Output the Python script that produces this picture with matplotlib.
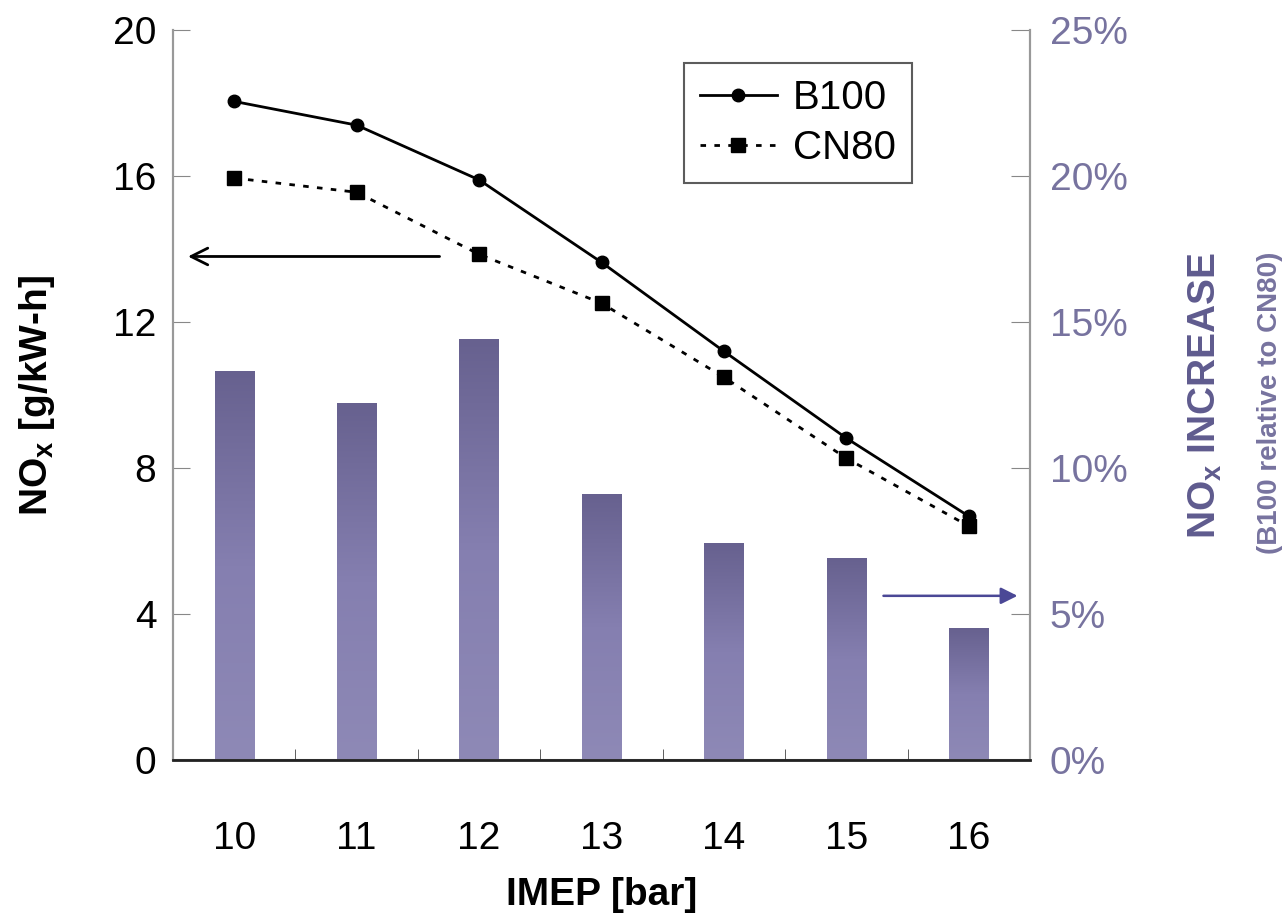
import numpy as np
import matplotlib
matplotlib.use("Agg")
import matplotlib.pyplot as plt
from matplotlib.colors import LinearSegmentedColormap

plt.rcParams['font.family'] = ['Liberation Sans', 'DejaVu Sans']
plt.rcParams['mathtext.fontset'] = 'custom'
plt.rcParams['mathtext.rm'] = 'Liberation Sans'
plt.rcParams['mathtext.bf'] = 'Liberation Sans:bold'

imep = [10, 11, 12, 13, 14, 15, 16]
b100 = [18.05, 17.4, 15.9, 13.64, 11.2, 8.82, 6.68]
cn80 = [15.95, 15.56, 13.86, 12.52, 10.49, 8.27, 6.41]
increase = [13.3, 12.2, 14.4, 9.1, 7.4, 6.9, 4.5]   # percent

label_col = '#77739f'

fig = plt.figure(figsize=(12.85, 9.17), dpi=100)
ax = fig.add_axes([0.1346, 0.1712, 0.667, 0.7958])
ax2 = ax.twinx()

# bars with vertical gradient on the right axis
cmap = LinearSegmentedColormap.from_list('barg', ['#8e89b6', '#857fb0', '#67618f'])
grad = np.linspace(0, 1, 256).reshape(-1, 1)
w = 0.32
for x, v in zip(imep, increase):
    ax2.imshow(grad, extent=(x - w / 2, x + w / 2, 0, v), origin='lower',
               cmap=cmap, aspect='auto', zorder=1)
ax2.set_ylim(0, 25)
ax2.set_xlim(9.5, 16.5)

ax.set_zorder(ax2.get_zorder() + 1)
ax.patch.set_visible(False)

ax.plot(imep, b100, '-o', color='black', lw=2, ms=9, label='B100')
ax.plot(imep, cn80, linestyle=(0, (2, 3)), marker='s', color='black', lw=2,
        ms=10, label='CN80')
ax.set_xlim(9.5, 16.5)
ax.set_ylim(0, 20)
ax2.set_xlim(9.5, 16.5)

ax.set_yticks([0, 4, 8, 12, 16, 20])
ax.set_xticks(imep)
ax.set_xticks(np.arange(10.5, 16, 1), minor=True)
ax.tick_params(axis='x', which='major', length=0, labelsize=28, pad=44)
ax.tick_params(axis='x', which='minor', length=8, direction='in', color='#444444')
ax.tick_params(axis='y', direction='in', length=12, labelsize=28, pad=12,
               color='#888888')
ax2.set_yticks([0, 5, 10, 15, 20, 25])
ax2.set_yticklabels(['0%', '5%', '10%', '15%', '20%', '25%'])
ax2.tick_params(axis='y', direction='in', length=14, labelsize=28, pad=14,
                labelcolor=label_col, color='#888888')

for a in (ax, ax2):
    for s in a.spines.values():
        s.set_color('#999999')
        s.set_linewidth(1.5)
ax.spines['bottom'].set_color('#222222')
ax.spines['bottom'].set_linewidth(2)
ax.spines['top'].set_visible(False)
ax2.spines['top'].set_visible(False)

ax.set_xlabel('IMEP [bar]', fontsize=28, fontweight='bold', labelpad=14)
ax.set_ylabel(r'NO$_{\mathbf{x}}$ [g/kW-h]', fontsize=28, fontweight='bold',
              labelpad=40)
ax2.text(1.205, 0.5, r'NO$_{\mathbf{x}}$ INCREASE', transform=ax2.transAxes,
         rotation=90, ha='center', va='center', fontsize=28,
         fontweight='bold', color='#5f5b8e')
ax2.text(1.28, 0.49, '(B100 relative to CN80)', transform=ax2.transAxes,
         rotation=90, ha='center', va='center', fontsize=20,
         fontweight='bold', color=label_col)

# direction arrows
ax.annotate('', xy=(9.6, 13.8), xytext=(11.7, 13.8),
            arrowprops=dict(arrowstyle='->', color='black', lw=2,
                            mutation_scale=30))
ax.annotate('', xy=(16.42, 4.5), xytext=(15.28, 4.5),
            arrowprops=dict(arrowstyle='-|>', color='#4b4896', lw=1.8,
                            mutation_scale=25))

leg = ax.legend(loc='upper right', bbox_to_anchor=(0.862, 0.955), fontsize=29,
                frameon=True, fancybox=False, edgecolor='#333333',
                handlelength=1.9, borderpad=0.4, labelspacing=0.3,
                handletextpad=0.4, borderaxespad=0)
leg.get_frame().set_linewidth(1.5)

fig.savefig('out.png', dpi=100)
